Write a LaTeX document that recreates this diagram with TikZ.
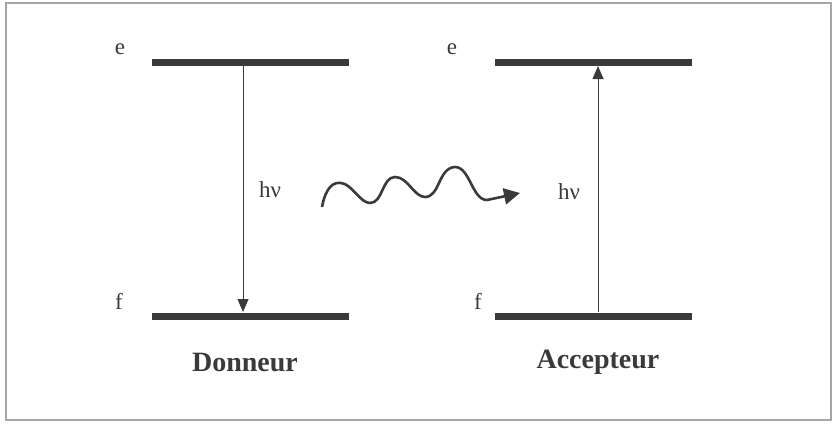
\documentclass[tikz,border=0pt]{standalone}
\usepackage{fontspec}
\setmainfont{Liberation Serif}
\usetikzlibrary{arrows.meta}
\definecolor{ink}{HTML}{3A3A3A}
\begin{document}
\begin{tikzpicture}[x=1pt,y=-1pt,
  level/.style={line width=7pt,ink},
  trans/.style={line width=0.8pt,ink,-{Triangle[length=13pt,width=11pt]}},
  lbl/.style={font=\fontsize{23}{25}\selectfont,text=ink,inner sep=0pt},
  sidename/.style={font=\fontsize{28}{30}\selectfont\bfseries,text=ink,inner sep=0pt}]
\useasboundingbox (0,0) rectangle (834,423);
\draw[gray!70,line width=2pt] (6,3) rectangle (831,420);
% left levels
\coordinate (dEa) at (152,62); \coordinate (dEb) at (349,62);
\coordinate (dFa) at (152,316); \coordinate (dFb) at (349,316);
\draw[level] (dEa) -- (dEb);
\draw[level] (dFa) -- (dFb);
\coordinate (dtop) at (243,66); \coordinate (dbot) at (243,312);
\draw[trans] (dtop) -- (dbot);
\node[lbl] (de) at (120,49) {e};
\node[lbl] (df) at (119,301) {f};
\node[lbl] (dh) at (270,190) {hν};
\node[sidename] (don) at (245,362) {Donneur};
% right levels
\coordinate (aEa) at (495,62); \coordinate (aEb) at (692,62);
\coordinate (aFa) at (495,316); \coordinate (aFb) at (692,316);
\draw[level] (aEa) -- (aEb);
\draw[level] (aFa) -- (aFb);
\coordinate (abot) at (598,312); \coordinate (atop) at (598,66);
\draw[trans] (abot) -- (atop);
\node[lbl] (ae) at (452,49) {e};
\node[lbl] (af) at (478,301) {f};
\node[lbl] (ah) at (569,192) {hν};
\node[sidename] (acc) at (598,362) {Accepteur};
% wavy photon
\coordinate (w0) at (322,207);
\coordinate (w1) at (520,193);
\draw[ink,line width=2.6pt,line join=round,-{Triangle[length=16pt,width=16pt]}]
  (w0) .. controls (326,186) and (334,182) .. (341,183)
       .. controls (352,184) and (360,203) .. (370,203)
       .. controls (383,203) and (382,177) .. (395,177)
       .. controls (408,177) and (414,197) .. (425,197)
       .. controls (440,197) and (438,168) .. (455,167)
       .. controls (470,167) and (472,200) .. (487,200)
       -- (w1);
\end{tikzpicture}
\end{document}
